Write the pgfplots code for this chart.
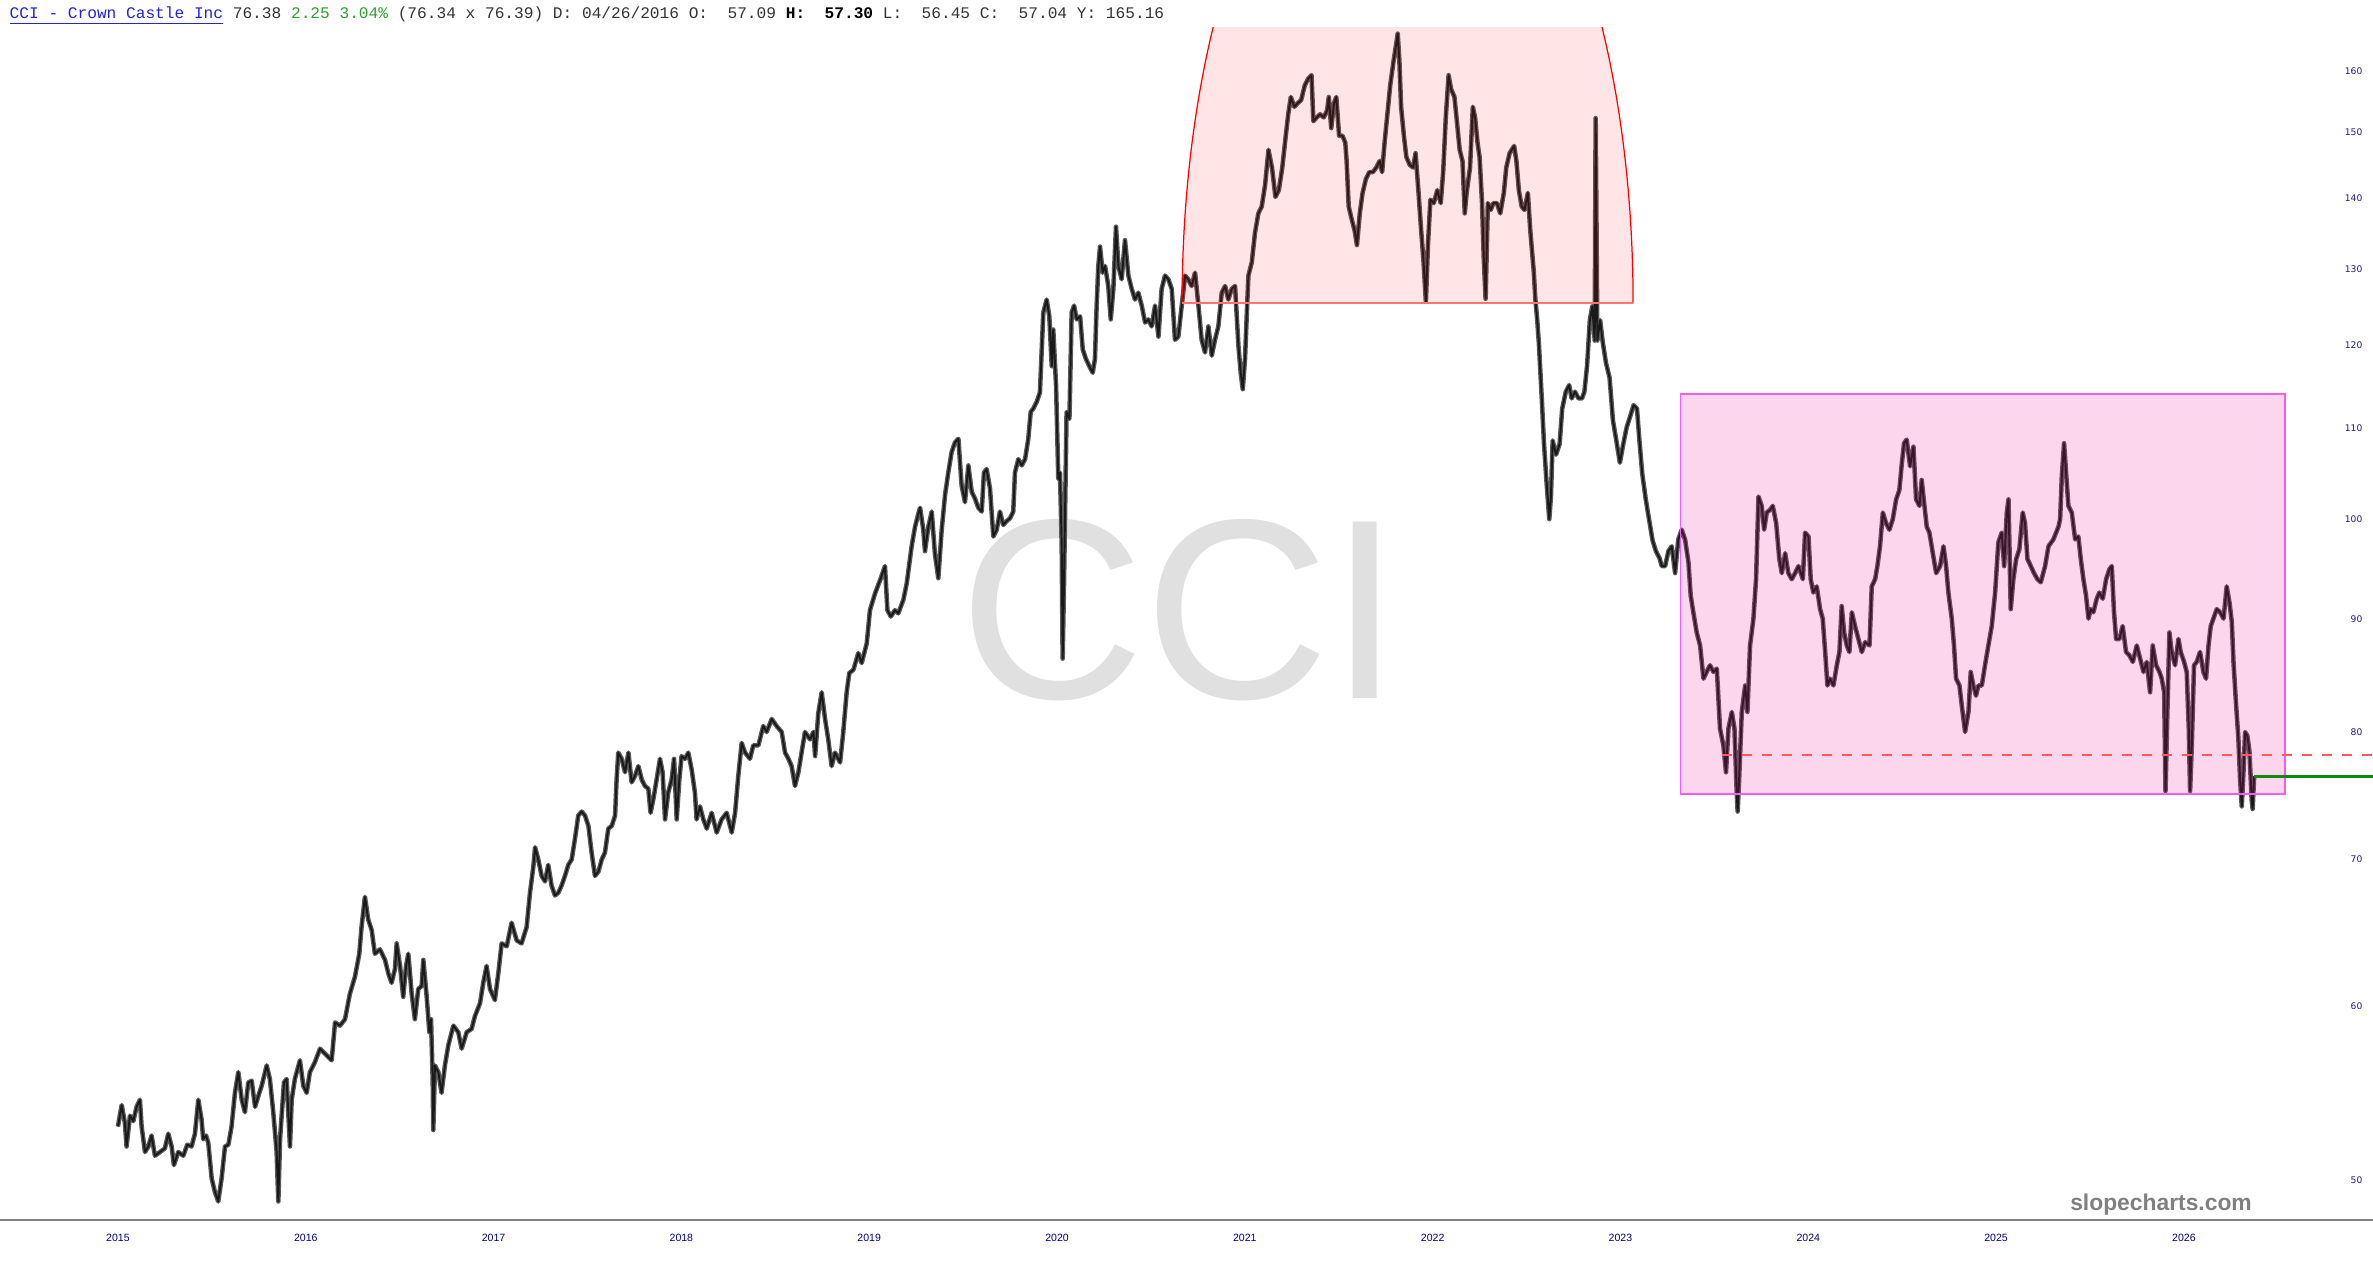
\documentclass[border=0pt]{standalone}
\usepackage{pgfplots}
\usepackage{pgfplotstable}
\pgfplotsset{compat=1.18}
\usepackage{fontspec}
\setmainfont{Liberation Sans}
\newfontfamily\monofont{Liberation Mono}
\newfontfamily\dvfont{DejaVu Sans}

\definecolor{axgray}{HTML}{808080}
\definecolor{tickblue}{HTML}{000080}
\definecolor{ytickblue}{HTML}{1A1A8C}
\definecolor{hdrblue}{HTML}{2323D8}
\definecolor{hdrgreen}{HTML}{2E9E2E}
\definecolor{hdrgray}{HTML}{333333}
\definecolor{wm}{HTML}{E0E0E0}
\definecolor{rectedge}{HTML}{F25CF2}
\definecolor{dashred}{HTML}{FF5A5A}
\definecolor{lvlgreen}{HTML}{118811}
\definecolor{candlegray}{HTML}{5A5A5A}

% CCI daily path (year, price)
\pgfplotstableread{
x y
2015.000 52.9
2015.020 54.1
2015.037 53.1
2015.046 51.8
2015.064 53.5
2015.082 53.2
2015.099 54.0
2015.117 54.4
2015.126 52.9
2015.144 51.5
2015.162 51.8
2015.179 52.4
2015.197 51.3
2015.224 51.5
2015.250 51.7
2015.268 52.5
2015.286 51.8
2015.298 50.8
2015.321 51.5
2015.348 51.3
2015.369 51.9
2015.392 51.8
2015.410 52.5
2015.428 54.4
2015.445 53.3
2015.454 52.2
2015.469 52.4
2015.481 52.0
2015.499 50.1
2015.516 49.4
2015.534 48.9
2015.552 50.1
2015.570 51.8
2015.588 51.9
2015.605 52.9
2015.623 54.8
2015.641 56.0
2015.659 54.4
2015.676 53.7
2015.694 55.4
2015.712 55.5
2015.730 54.0
2015.747 54.6
2015.765 55.2
2015.792 56.4
2015.809 55.6
2015.827 53.7
2015.845 51.5
2015.854 48.9
2015.863 52.2
2015.884 55.4
2015.898 55.6
2015.916 51.8
2015.925 54.4
2015.942 55.6
2015.969 56.7
2015.987 55.2
2016.005 54.8
2016.022 56.0
2016.049 56.6
2016.076 57.4
2016.111 57.0
2016.138 56.7
2016.156 59.0
2016.182 58.8
2016.209 59.2
2016.235 60.8
2016.262 61.9
2016.285 63.4
2016.297 65.2
2016.315 67.3
2016.333 65.7
2016.351 65.0
2016.368 63.4
2016.395 63.7
2016.422 63.0
2016.440 62.1
2016.457 61.5
2016.475 62.4
2016.484 64.1
2016.502 62.6
2016.519 60.6
2016.534 62.6
2016.546 63.4
2016.564 60.8
2016.581 59.2
2016.599 61.1
2016.617 61.3
2016.626 63.0
2016.644 60.6
2016.658 58.4
2016.667 59.2
2016.676 55.5
2016.679 52.7
2016.688 56.4
2016.706 56.0
2016.723 54.8
2016.741 56.4
2016.759 57.6
2016.786 58.8
2016.812 58.4
2016.830 57.4
2016.857 58.4
2016.883 58.6
2016.901 59.4
2016.928 60.2
2016.945 61.5
2016.963 62.6
2016.981 61.1
2017.007 60.4
2017.025 62.1
2017.043 64.1
2017.070 63.9
2017.096 65.5
2017.123 64.3
2017.149 64.1
2017.176 65.2
2017.194 67.6
2017.212 69.5
2017.221 70.9
2017.238 70.0
2017.256 68.8
2017.274 68.4
2017.291 69.6
2017.309 68.1
2017.327 67.4
2017.345 67.6
2017.362 68.1
2017.380 68.8
2017.398 69.6
2017.416 70.0
2017.433 71.5
2017.451 73.3
2017.469 73.6
2017.487 73.3
2017.505 72.5
2017.522 70.5
2017.540 68.8
2017.558 69.1
2017.576 70.0
2017.593 70.5
2017.611 72.3
2017.629 72.5
2017.647 73.3
2017.655 76.1
2017.664 78.3
2017.682 77.8
2017.700 76.7
2017.718 78.3
2017.735 75.9
2017.753 76.4
2017.771 77.2
2017.789 76.1
2017.806 75.6
2017.824 75.4
2017.836 73.5
2017.851 74.6
2017.868 76.1
2017.886 77.8
2017.900 76.7
2017.913 73.0
2017.930 75.1
2017.948 76.1
2017.961 77.8
2017.975 73.0
2017.989 76.1
2018.001 78.0
2018.019 77.8
2018.037 78.3
2018.055 76.9
2018.072 75.1
2018.081 73.0
2018.099 74.0
2018.117 73.0
2018.135 72.3
2018.161 73.5
2018.188 72.0
2018.214 73.0
2018.241 73.5
2018.268 72.0
2018.286 73.5
2018.303 76.4
2018.321 79.1
2018.339 78.3
2018.365 77.8
2018.383 78.9
2018.410 78.9
2018.436 80.5
2018.454 80.0
2018.481 81.1
2018.507 80.5
2018.534 80.0
2018.552 78.3
2018.570 77.8
2018.587 77.2
2018.605 75.6
2018.623 76.7
2018.640 78.3
2018.658 80.0
2018.685 79.4
2018.703 80.0
2018.712 78.0
2018.729 81.6
2018.747 83.4
2018.765 81.1
2018.782 79.4
2018.800 77.2
2018.818 78.3
2018.845 77.5
2018.862 80.0
2018.880 83.4
2018.894 85.1
2018.916 85.4
2018.942 86.9
2018.960 86.0
2018.987 87.8
2019.004 90.9
2019.031 92.5
2019.058 93.8
2019.084 95.2
2019.097 90.9
2019.115 90.3
2019.137 90.9
2019.155 90.6
2019.182 91.9
2019.200 93.5
2019.226 97.2
2019.244 99.2
2019.262 100.6
2019.271 101.2
2019.288 98.9
2019.297 96.7
2019.315 99.2
2019.333 100.8
2019.350 96.4
2019.368 94.0
2019.386 98.9
2019.404 102.6
2019.421 105.0
2019.439 107.3
2019.457 108.4
2019.475 108.8
2019.492 103.6
2019.510 101.8
2019.528 105.8
2019.546 102.9
2019.563 102.2
2019.581 101.2
2019.599 100.8
2019.611 105.0
2019.625 105.4
2019.643 103.3
2019.661 98.2
2019.679 98.9
2019.696 100.8
2019.714 99.4
2019.732 99.8
2019.750 100.1
2019.767 100.8
2019.776 105.0
2019.794 106.5
2019.812 105.8
2019.830 106.5
2019.847 108.8
2019.860 111.9
2019.874 112.3
2019.892 113.1
2019.909 114.2
2019.918 119.1
2019.927 124.2
2019.945 125.9
2019.959 123.7
2019.972 117.4
2019.980 122.0
2019.995 115.0
2020.007 104.3
2020.016 105.0
2020.025 97.3
2020.030 86.4
2020.037 93.3
2020.051 111.9
2020.066 111.1
2020.078 124.2
2020.091 125.1
2020.105 123.3
2020.123 123.7
2020.137 119.5
2020.154 118.3
2020.172 117.4
2020.190 116.6
2020.202 118.3
2020.211 125.1
2020.220 130.4
2020.229 133.1
2020.243 129.5
2020.256 130.4
2020.273 127.7
2020.286 123.3
2020.300 127.3
2020.314 135.9
2020.327 130.4
2020.344 128.6
2020.362 134.0
2020.380 129.1
2020.398 127.3
2020.415 125.9
2020.433 126.8
2020.451 125.1
2020.469 122.9
2020.486 123.3
2020.504 122.4
2020.522 125.1
2020.540 121.1
2020.557 127.3
2020.575 129.1
2020.593 128.6
2020.611 127.3
2020.628 120.7
2020.646 121.1
2020.664 125.1
2020.682 129.1
2020.699 128.6
2020.717 127.7
2020.735 129.5
2020.753 125.1
2020.770 120.7
2020.788 119.1
2020.806 122.4
2020.824 118.7
2020.841 120.7
2020.859 122.4
2020.877 126.8
2020.895 127.7
2020.912 125.9
2020.930 127.3
2020.948 127.7
2020.966 119.9
2020.978 116.6
2020.989 114.6
2021.001 118.3
2021.010 123.7
2021.019 129.1
2021.037 130.9
2021.054 135.0
2021.072 137.8
2021.090 138.8
2021.108 142.0
2021.126 147.3
2021.145 144.5
2021.163 140.2
2021.181 141.2
2021.199 144.5
2021.218 149.5
2021.231 152.9
2021.245 155.7
2021.264 154.1
2021.282 154.7
2021.300 155.2
2021.319 157.6
2021.337 158.7
2021.355 159.3
2021.365 151.8
2021.383 152.4
2021.401 152.9
2021.420 152.4
2021.438 153.5
2021.447 155.7
2021.460 150.7
2021.475 154.7
2021.487 155.7
2021.502 149.5
2021.520 149.5
2021.535 148.4
2021.542 145.6
2021.553 138.8
2021.566 137.3
2021.585 135.3
2021.597 133.3
2021.612 137.8
2021.627 140.8
2021.645 142.9
2021.663 143.9
2021.682 143.9
2021.700 144.6
2021.718 145.6
2021.731 143.9
2021.744 148.4
2021.759 152.9
2021.774 157.6
2021.792 161.7
2021.807 164.8
2021.814 166.4
2021.823 161.7
2021.832 154.1
2021.847 149.5
2021.860 146.2
2021.878 145.0
2021.896 144.6
2021.909 146.8
2021.924 141.2
2021.939 135.3
2021.951 131.2
2021.964 125.6
2021.975 133.3
2021.988 139.8
2022.006 139.3
2022.025 141.2
2022.043 139.3
2022.056 143.9
2022.070 152.4
2022.085 159.3
2022.098 157.0
2022.116 155.7
2022.129 151.8
2022.144 147.3
2022.159 145.6
2022.171 137.8
2022.181 140.8
2022.199 144.6
2022.214 154.1
2022.226 152.4
2022.239 148.4
2022.250 146.2
2022.263 139.3
2022.272 131.6
2022.282 126.0
2022.294 139.3
2022.309 138.3
2022.324 139.3
2022.342 139.3
2022.360 137.8
2022.379 140.8
2022.392 144.6
2022.410 146.8
2022.434 147.9
2022.446 145.6
2022.459 141.2
2022.474 138.8
2022.489 138.3
2022.507 140.8
2022.520 135.3
2022.538 129.8
2022.547 125.9
2022.557 123.2
2022.566 120.1
2022.581 113.5
2022.593 108.2
2022.606 104.1
2022.621 100.0
2022.630 102.5
2022.639 108.6
2022.657 107.0
2022.676 108.2
2022.690 112.3
2022.709 114.3
2022.727 115.1
2022.740 113.5
2022.758 114.3
2022.777 113.5
2022.795 113.5
2022.808 114.3
2022.822 117.4
2022.837 123.2
2022.850 125.0
2022.863 120.6
2022.868 152.3
2022.877 120.6
2022.892 123.2
2022.905 120.5
2022.923 117.8
2022.942 116.0
2022.960 110.9
2022.978 108.6
2022.997 106.1
2023.015 108.2
2023.033 110.1
2023.052 111.4
2023.070 112.7
2023.088 112.3
2023.101 108.6
2023.116 104.9
2023.134 102.2
2023.152 100.0
2023.171 97.8
2023.189 96.7
2023.208 96.0
2023.220 95.2
2023.238 95.2
2023.255 96.7
2023.273 97.2
2023.291 94.5
2023.308 97.9
2023.326 98.9
2023.344 97.9
2023.362 95.6
2023.374 92.3
2023.388 90.7
2023.406 88.8
2023.424 87.6
2023.442 84.6
2023.459 85.2
2023.477 85.8
2023.495 85.2
2023.513 85.5
2023.530 80.3
2023.548 78.9
2023.562 76.7
2023.575 80.3
2023.593 81.7
2023.607 80.3
2023.619 75.1
2023.624 73.6
2023.632 76.2
2023.646 81.7
2023.664 84.0
2023.676 81.7
2023.690 87.6
2023.708 90.1
2023.722 93.9
2023.735 102.4
2023.752 101.4
2023.765 98.9
2023.779 100.7
2023.797 101.0
2023.811 101.4
2023.829 99.6
2023.846 95.9
2023.859 94.5
2023.877 96.5
2023.894 94.5
2023.912 93.9
2023.930 94.5
2023.948 95.2
2023.971 93.9
2023.983 98.6
2024.001 98.2
2024.013 93.9
2024.027 92.6
2024.045 93.2
2024.063 91.0
2024.077 90.1
2024.090 87.0
2024.102 84.0
2024.116 84.6
2024.134 84.0
2024.152 85.8
2024.166 87.0
2024.178 91.3
2024.191 88.8
2024.205 87.6
2024.219 87.0
2024.232 90.7
2024.249 89.4
2024.267 88.2
2024.285 87.0
2024.303 87.9
2024.326 87.6
2024.338 93.2
2024.356 93.9
2024.368 95.2
2024.382 97.2
2024.397 100.7
2024.414 99.6
2024.432 98.9
2024.450 100.0
2024.468 102.1
2024.485 103.1
2024.498 106.0
2024.510 108.3
2024.524 108.7
2024.542 105.7
2024.560 107.9
2024.574 102.1
2024.592 101.4
2024.604 104.2
2024.617 101.7
2024.631 99.2
2024.645 98.6
2024.663 96.5
2024.681 94.5
2024.702 95.2
2024.720 97.2
2024.734 95.2
2024.746 92.6
2024.764 90.1
2024.776 87.6
2024.787 84.6
2024.805 84.0
2024.817 82.3
2024.835 80.0
2024.853 81.7
2024.865 85.2
2024.879 84.0
2024.893 83.1
2024.906 84.0
2024.924 84.0
2024.941 85.8
2024.959 87.6
2024.977 89.4
2024.995 92.6
2025.012 97.6
2025.030 98.6
2025.043 95.2
2025.057 100.7
2025.066 102.1
2025.078 91.0
2025.092 93.9
2025.107 95.9
2025.124 96.9
2025.142 100.7
2025.154 99.6
2025.167 95.9
2025.185 95.2
2025.202 94.5
2025.220 93.9
2025.238 93.6
2025.261 95.2
2025.279 97.2
2025.305 97.9
2025.332 99.2
2025.341 100.0
2025.350 104.6
2025.362 108.3
2025.373 104.9
2025.385 101.4
2025.403 100.7
2025.421 97.9
2025.438 98.2
2025.451 95.9
2025.465 93.9
2025.479 92.3
2025.492 90.1
2025.504 91.0
2025.518 90.7
2025.536 92.0
2025.550 92.6
2025.568 92.0
2025.586 93.9
2025.604 94.9
2025.616 95.2
2025.628 90.7
2025.639 88.2
2025.657 88.2
2025.674 89.4
2025.692 87.0
2025.710 86.7
2025.728 86.1
2025.749 87.6
2025.767 86.4
2025.785 85.2
2025.802 86.1
2025.820 83.4
2025.834 87.6
2025.852 85.8
2025.870 85.2
2025.882 84.6
2025.895 83.4
2025.902 75.2
2025.912 81.7
2025.923 88.8
2025.935 87.0
2025.953 85.8
2025.971 88.2
2025.983 87.0
2026.001 86.1
2026.015 85.2
2026.026 80.3
2026.033 75.2
2026.042 78.9
2026.054 85.8
2026.068 86.1
2026.086 87.0
2026.104 85.2
2026.118 84.6
2026.131 87.6
2026.143 89.4
2026.157 90.1
2026.175 91.0
2026.193 90.7
2026.211 90.1
2026.228 93.2
2026.243 91.6
2026.255 89.8
2026.264 86.1
2026.278 82.3
2026.290 79.5
2026.299 76.2
2026.308 74.0
2026.317 76.7
2026.326 80.0
2026.338 79.7
2026.349 78.4
2026.361 74.5
2026.366 73.8
2026.374 76.4
}\cci

\begin{document}
\begin{tikzpicture}
\useasboundingbox (0,-4mm) rectangle (237.3mm,122mm);

% watermark behind the price path
\node[text=wm, font=\fontsize{73}{73}\selectfont, inner sep=0pt] at (118mm,61mm) {CCI};

\begin{axis}[
  width=237.3mm, height=119.25mm, scale only axis,
  xmin=2014.372, xmax=2027.007,
  ymode=log, ymin=47.96, ymax=167.47,
  axis x line*=bottom, axis y line*=right,
  x axis line style={-, draw=axgray, line width=0.2mm},
  y axis line style={draw=none},
  major tick length=0pt,
  xtick={2015,2016,2017,2018,2019,2020,2021,2022,2023,2024,2025,2026},
  xticklabels={2015,2016,2017,2018,2019,2020,2021,2022,2023,2024,2025,2026},
  ytick={50,60,70,80,90,100,110,120,130,140,150,160},
  yticklabels={50,60,70,80,90,100,110,120,130,140,150,160},
  xticklabel style={font=\fontsize{3}{3}\selectfont, text=tickblue, anchor=center, yshift=-1.8mm},
  yticklabel style={font=\dvfont\fontsize{2.6}{3}\selectfont, text=ytickblue, anchor=east, inner sep=0pt, xshift=-1mm},
]
\addplot[candlegray, line width=1.3pt, line join=round] table {\cci};
\addplot[black!90, line width=0.55pt, line join=round] table {\cci};

% range box and levels
\addplot[draw=rectedge, line width=0.5pt, fill=magenta, fill opacity=0.16]
  coordinates {(2023.32,74.95) (2026.54,74.95) (2026.54,114.0) (2023.32,114.0)} -- cycle;
\addplot[dashred, line width=0.45pt, dash pattern=on 1mm off 1mm]
  coordinates {(2023.54,78.1) (2027.007,78.1)};
\addplot[lvlgreen, line width=0.8pt]
  coordinates {(2026.374,76.38) (2027.007,76.38)};

% top arch
\begin{scope}
\clip (rel axis cs:0,0) rectangle (rel axis cs:1,1);
\fill[red, fill opacity=0.1] (axis cs:2020.666,125.4)
  arc[start angle=180, end angle=0, x radius=2.255cm, y radius=5.45cm] -- cycle;
\draw[red, line width=0.35pt] (axis cs:2020.666,125.4)
  arc[start angle=180, end angle=0, x radius=2.255cm, y radius=5.45cm];
\draw[red!55, line width=0.5pt] (axis cs:2020.666,125.4) -- (axis cs:2023.067,125.4);
\end{scope}
\end{axis}

\node[anchor=west, inner sep=0pt, font=\monofont\fontsize{4.6}{5}\selectfont, text=hdrgray] at (0.9mm,120.4mm)
  {\textcolor{hdrblue}{\underline{CCI - Crown Castle Inc}} 76.38 \textcolor{hdrgreen}{2.25 3.04\%} (76.34 x 76.39) D: 04/26/2016 O:~~57.09 \textcolor{black}{\bfseries H:~~57.30} L:~~56.45 C:~~57.04 Y: 165.16};

\node[anchor=base, inner sep=0pt, text=axgray, font=\bfseries\fontsize{6.5}{7}\selectfont] at (216.1mm,1.0mm) {slopecharts.com};
\end{tikzpicture}
\end{document}
